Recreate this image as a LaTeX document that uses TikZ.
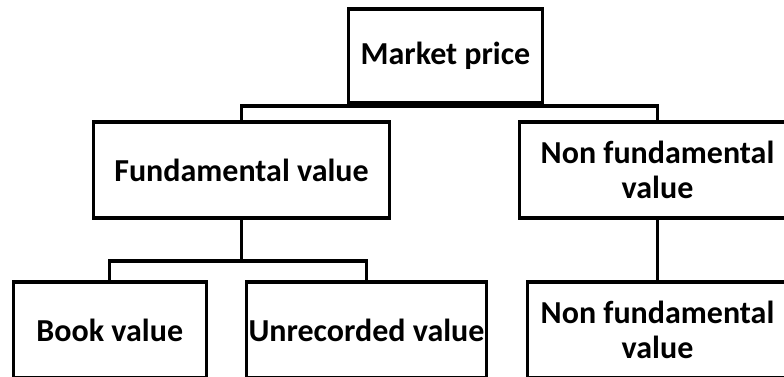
\documentclass[tikz,border=0pt]{standalone}
\usepackage{fontspec}
\setmainfont{Carlito}
\begin{document}
\begin{tikzpicture}[x=1pt, y=-1pt,
      block/.style = {
        rectangle, draw=black, line width=3.2pt, align=center, inner sep=0pt,
        font=\bfseries\fontsize{32}{35}\selectfont },
      link/.style = { draw, line width=3.2pt }]
    \clip (0,0) rectangle (784,376);
    \node [block, minimum width=194, minimum height=94] (market) at (445.5,56) {Market price};
    \node [block, minimum width=296, minimum height=96] (fund) at (241.5,170) {Fundamental value};
    \node [block, minimum width=276, minimum height=96] (nonfund) at (657.5,170) {Non fundamental\\ value};
    \node [block, minimum width=193, minimum height=96] (book) at (109.75,330) {Book value};
    \node [block, minimum width=240, minimum height=96] (unrec) at (366.5,330) {Unrecorded value};
    \node [block, minimum width=260, minimum height=96] (nonfundb) at (657.5,330) {Non fundamental\\ value};
    \coordinate (topbar) at (445.5,106);
    \coordinate (lowbar) at (241.5,261);
    % connect all nodes defined above
    \draw[link] (fund.north) |- (topbar) -| (nonfund.north);
    \draw[link] (fund.south) -- (lowbar);
    \draw[link] (book.north) |- (lowbar) -| (unrec.north);
    \draw[link] (nonfund.south) -- (nonfundb.north);
  \end{tikzpicture}
\end{document}
